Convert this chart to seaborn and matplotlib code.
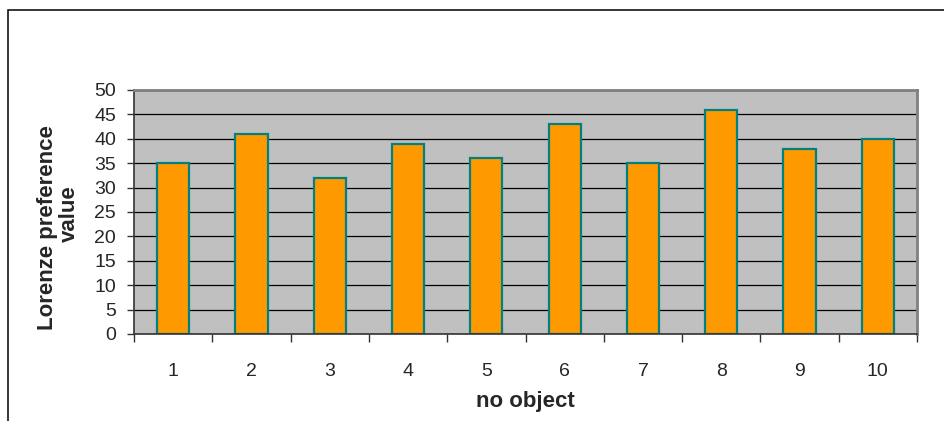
import numpy as np
import pandas as pd
import matplotlib
matplotlib.use('Agg')
import matplotlib.pyplot as plt
import seaborn as sns
from matplotlib.patches import Rectangle
from matplotlib.ticker import FixedLocator

# data
objects = ['1', '2', '3', '4', '5', '6', '7', '8', '9', '10']
preference = [35, 41, 32, 39, 36, 43, 35, 46, 38, 40]
y_ticks = list(range(0, 51, 5))

sns.set_style('white')
plt.rcParams['font.family'] = ['Liberation Sans', 'DejaVu Sans']

df = pd.DataFrame({'obj': objects, 'val': preference})

fig = plt.figure(figsize=(9.44, 4.21), dpi=100)
ax = fig.add_axes([134 / 944, 1 - 334 / 421, (917 - 134) / 944, (334 - 90) / 421])
ax.set_facecolor('#C0C0C0')

# gridlines under the bars
ax.set_axisbelow(True)
ax.yaxis.grid(True, color='black', linewidth=0.9)

sns.barplot(data=df, x='obj', y='val', ax=ax, color='#FF9900', saturation=1,
            width=0.41, edgecolor='#008080', linewidth=1.6, errorbar=None)

ax.set_xlim(-0.5, len(objects) - 0.5)
ax.set_ylim(0, 50)
ax.set_yticks(y_ticks)
ax.tick_params(axis='y', which='major', direction='out', length=5, width=1,
               color='#333333', labelsize=14, pad=8, left=True)

# category labels at centres, tick marks between categories
ax.xaxis.set_minor_locator(FixedLocator(np.arange(-0.5, len(objects), 1.0)))
ax.tick_params(axis='x', which='major', length=0, labelsize=14, pad=21)
ax.tick_params(axis='x', which='minor', direction='out', length=6, width=1,
               color='#333333', bottom=True)

for side in ['left', 'bottom']:
    ax.spines[side].set_color('#333333')
    ax.spines[side].set_linewidth(1.2)
for side in ['top', 'right']:
    ax.spines[side].set_color('#808080')
    ax.spines[side].set_linewidth(2)

ax.set_xlabel('')
ax.set_ylabel('')
fig.text(525 / 944, 1 - 402 / 421, 'no object', ha='center', va='center',
         fontsize=16, fontweight='bold')
fig.text(48 / 944, 1 - 228 / 421, 'Lorenze preference', ha='center',
         va='center', rotation=90, fontsize=16, fontweight='bold')
fig.text(69 / 944, 1 - 214 / 421, 'value', ha='center',
         va='center', rotation=90, fontsize=16, fontweight='bold')

# outer chart border (cut off on the right and bottom)
fig.patches.append(Rectangle((8 / 944, -0.1), 1.2, 1 - 10 / 421 + 0.1,
                             transform=fig.transFigure, fill=False,
                             edgecolor='black', linewidth=1.1, clip_on=False))

plt.savefig('out.png', dpi=100)
